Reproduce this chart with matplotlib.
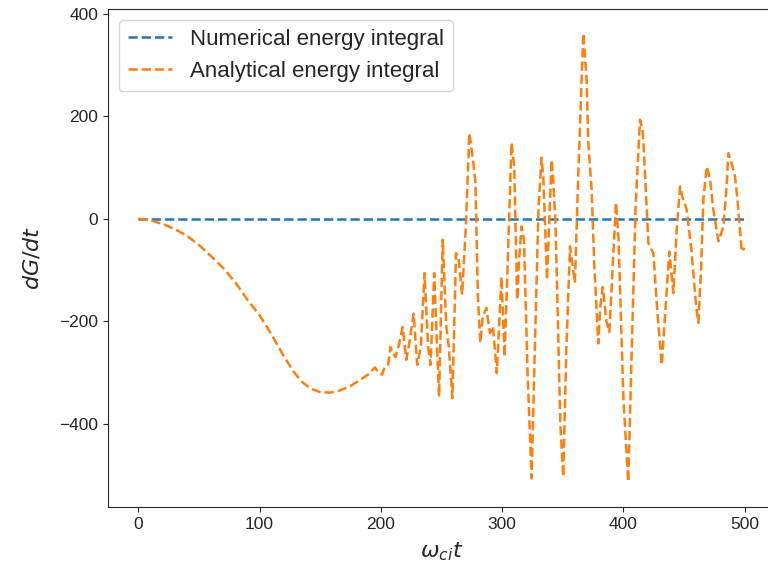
import numpy as np
import matplotlib
matplotlib.use('Agg')
import matplotlib.pyplot as plt
import seaborn as sns

sns.set_style('ticks')
plt.rcParams['font.family'] = ['Liberation Sans', 'DejaVu Sans']

# values
t = [0, 10, 20, 30, 40, 50, 60, 70, 80, 90, 100, 110, 120, 128, 135, 142,
     150, 158, 166, 175, 183, 190, 195, 198, 201, 203, 206, 208, 210, 212,
     215, 218, 221, 224, 227, 230, 233, 236, 239, 241, 244, 246, 248, 251,
     254, 256, 259, 262, 264, 267, 270, 273, 276, 278, 280, 282, 284, 287,
     290, 292.5, 295.6, 299.5, 302, 305, 307.7, 310, 312.4, 314, 316, 318,
     321, 324.3, 327, 330, 332.5, 334, 337, 340.8, 342, 344, 346, 348,
     350.4, 353, 356, 358, 360, 363, 366.9, 369.7, 371, 373.8, 376, 379.3,
     381, 383, 386, 388.4, 391, 393.9, 396, 400, 404, 407, 410, 413.7, 416,
     418, 420.6, 424.7, 428, 431.6, 434, 437.9, 441.2, 444, 446.7, 449,
     452.2, 456, 460, 461.8, 464, 466, 468.8, 471.5, 474, 478.4, 482.5, 485,
     486.6, 489, 492, 494, 497.6, 500]
analytical = [0, -3, -10, -20, -33, -51, -73, -96, -124, -158, -188, -226,
              -268, -298, -318, -331, -338, -339, -335, -326, -314, -303,
              -290, -300, -304, -290, -285, -250, -262, -270, -245, -211,
              -275, -235, -185, -285, -250, -106, -250, -285, -106, -230,
              -347, -41, -210, -250, -350, -67, -75, -148, -20, 167, 115, 70,
              -150, -242, -191, -174, -223, -210, -301, -113, -269, -60, 148,
              102, -158, -80, -15, -40, -300, -506, -250, 20, 119, 80, -119,
              115, 82, -10, -200, -400, -503, -250, -54, -90, -125, 100, 362,
              271, 150, 57, -90, -243, -170, -133, -200, -221, -100, 31, -40,
              -350, -513, -250, 20, 193, 170, 80, -47, -67, -180, -285, -200,
              -64, -145, -20, 63, 40, 18, -60, -170, -203, -100, 40, 102, 76,
              20, -44, -15, 60, 128, 110, 83, 40, -64, -57]
numerical = [0] * len(t)

fig = plt.figure(figsize=(7.68, 5.73), dpi=100)
ax = fig.add_axes([0.1406, 0.1152, 0.8685, 0.8691])
ax.plot(t, numerical, '--', color='C0', lw=1.8, label='Numerical energy integral')
ax.plot(t, analytical, '--', color='C1', lw=1.8, label='Analytical energy integral')
ax.set_xlim(-25, 525)
ax.set_ylim(-562, 409)
ax.set_xticks([0, 100, 200, 300, 400, 500])
ax.set_yticks([-400, -200, 0, 200, 400])
ax.tick_params(labelsize=12.5)
ax.set_xlabel(r'$\omega_{ci}t$', fontsize=16, labelpad=6)
ax.set_ylabel(r'$dG/dt$', fontsize=16, labelpad=11)
ax.legend(loc='upper left', fontsize=16)

fig.savefig('out.png', dpi=100)
